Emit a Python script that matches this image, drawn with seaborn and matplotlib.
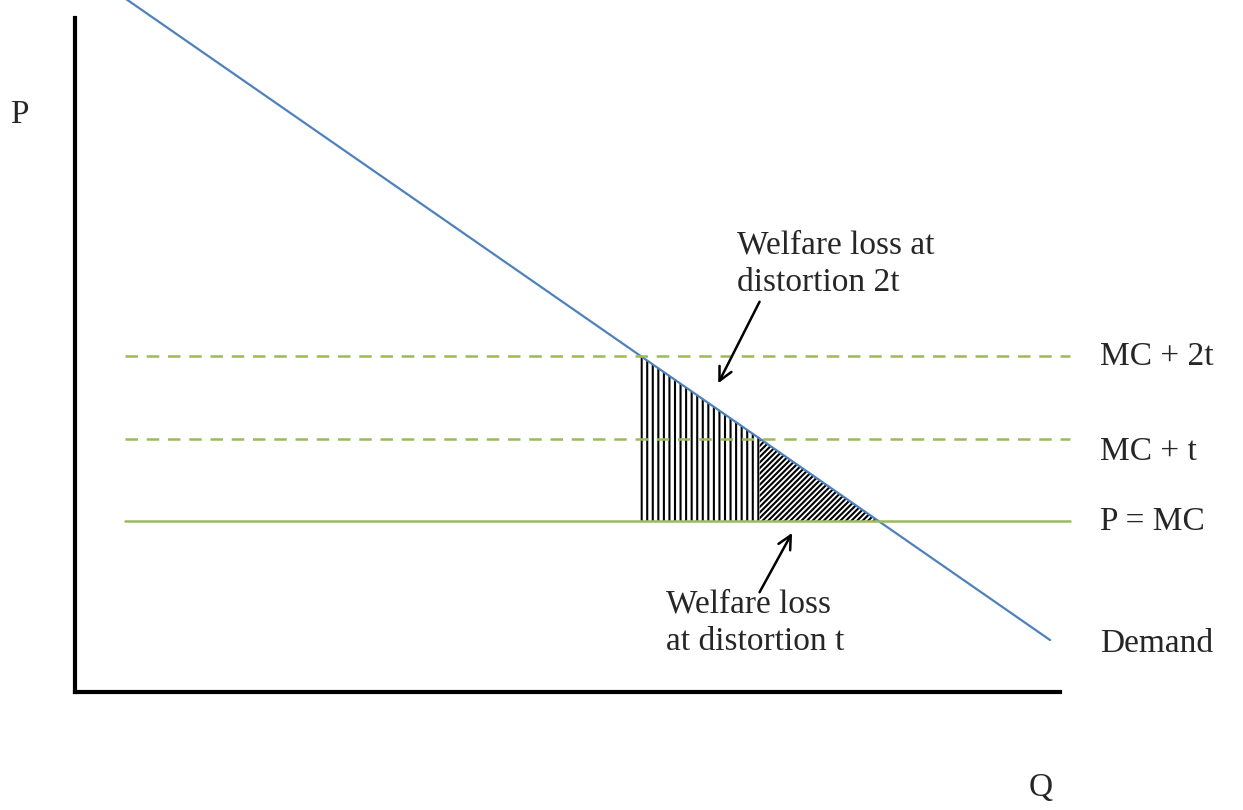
import numpy as np
import seaborn as sns
import matplotlib.pyplot as plt

# demand curve (Q, P) end points
demand_q = [5.1, 99.0]
demand_p = [102.9, 7.7]

# price levels
mc = 25.4
mc_t = 37.6
mc_2t = 49.9
line_q = [5.1, 101.0]

line_labels = ["MC + 2t", "MC + t", "P = MC"]
label_p = [49.7, 35.6, 25.2]

sns.set_style("white")
plt.rcParams['font.family'] = ['Liberation Serif', 'DejaVu Serif']
plt.rcParams['hatch.color'] = 'black'
plt.rcParams['hatch.linewidth'] = 1.5

fig = plt.figure(figsize=(12.43, 8.10), dpi=100)
ax = fig.add_axes([0, 0, 1, 1])

blue = "#4f81bd"
green = "#9bbb59"

sns.lineplot(x=demand_q, y=demand_p, color=blue, lw=1.6, ax=ax)
sns.lineplot(x=line_q, y=[mc, mc], color=green, lw=1.8, ax=ax)
for lvl in [mc_t, mc_2t]:
    ax.plot(line_q, [lvl, lvl], color=green, lw=1.8, dashes=(5, 3.5))

# where demand meets each price line
dq = np.array(demand_q)[::-1]
dp = np.array(demand_p)[::-1]
q_mc = np.interp(mc, dp, dq)
q_t = np.interp(mc_t, dp, dq)
q_2t = np.interp(mc_2t, dp, dq)

def demand_at(q):
    return np.interp(q, demand_q, demand_p)

qa = np.linspace(q_2t, q_t, 50)
ax.fill_between(qa, mc, demand_at(qa), facecolor='none', edgecolor='black',
                linewidth=0, hatch='|||')
qb = np.linspace(q_t, q_mc, 50)
ax.fill_between(qb, mc, demand_at(qb), facecolor='none', edgecolor='black',
                linewidth=0, hatch='//////')

# labels
fs = 24
for txt, p in zip(line_labels, label_p):
    ax.text(104.1, p, txt, fontsize=fs, va='center', ha='left')
ax.text(104.1, 7.2, "Demand", fontsize=fs, va='center', ha='left')
ax.text(-5.6, 85.7, "P", fontsize=fs, va='center', ha='center')
ax.text(98.0, -14.2, "Q", fontsize=fs, va='center', ha='center')

ax.text(67.2, 63.5, "Welfare loss at\ndistortion 2t", fontsize=fs,
        va='center', ha='left', linespacing=1.28)
ax.text(60.0, 10.2, "Welfare loss\nat distortion t", fontsize=fs,
        va='center', ha='left', linespacing=1.28)

arrow = dict(arrowstyle='->', lw=1.8, color='black', mutation_scale=24,
             shrinkA=0, shrinkB=0)
ax.annotate("", xy=(65.3, 45.8), xytext=(69.5, 57.9), arrowprops=arrow)
ax.annotate("", xy=(72.8, 23.6), xytext=(69.5, 14.8), arrowprops=arrow)

ax.set_xlim(-7.614, 118.58)
ax.set_ylim(-17.51, 102.67)
sns.despine(ax=ax)
for side in ['left', 'bottom']:
    ax.spines[side].set_position(('data', 0))
    ax.spines[side].set_linewidth(3)
    ax.spines[side].set_color('black')
    ax.spines[side].set_bounds(0, 100)
ax.set_xticks([])
ax.set_yticks([])

fig.savefig("out.png", dpi=100)
